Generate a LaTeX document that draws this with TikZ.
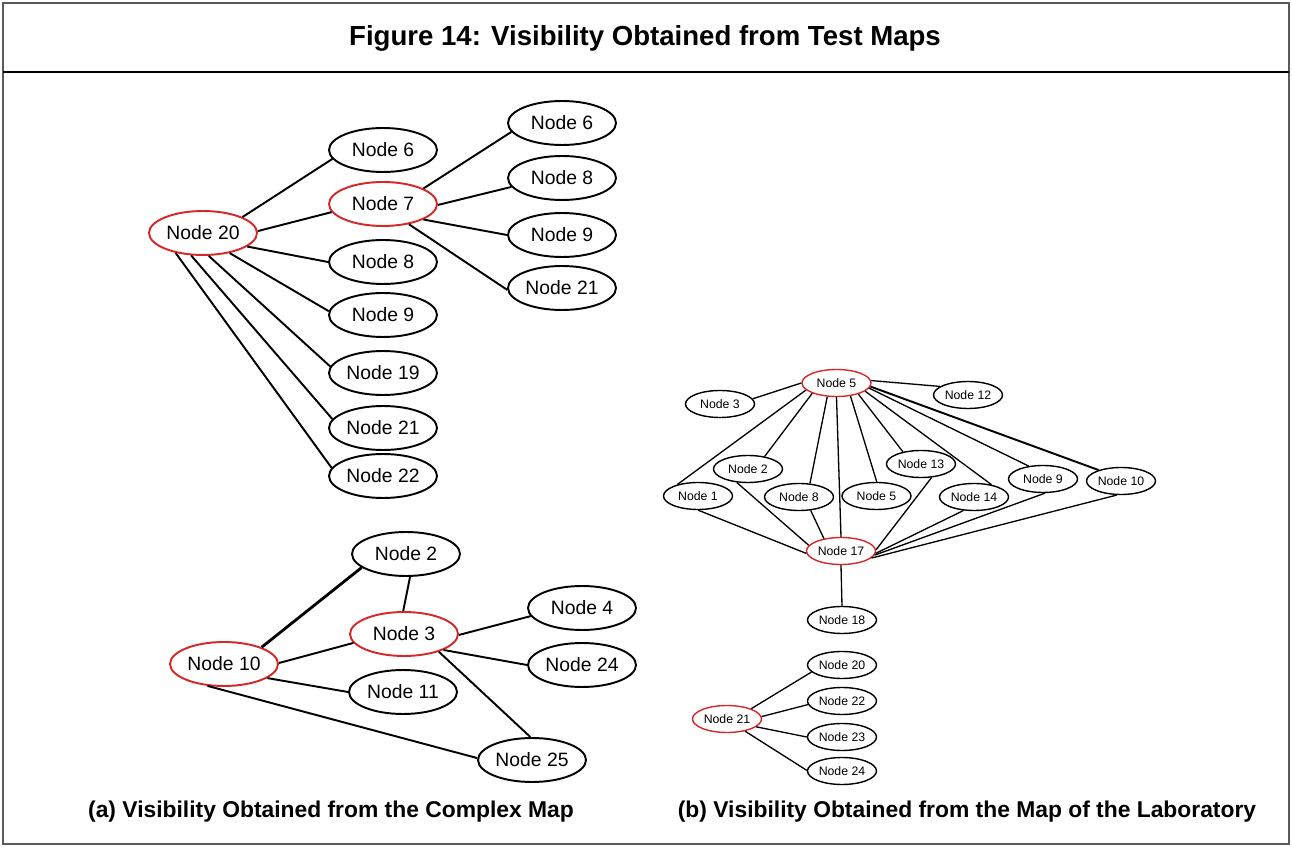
\documentclass[tikz,border=0pt]{standalone}
\usepackage{fontspec}
\setmainfont{Liberation Sans}
\usetikzlibrary{shapes.geometric}
\definecolor{nodered}{RGB}{214,40,40}
\definecolor{framegray}{RGB}{90,90,90}
\begin{document}
\begin{tikzpicture}[x=0.02cm,y=-0.02cm,
  bign/.style={draw, ellipse, line width=1.1pt, minimum width=2.16cm, minimum height=0.88cm, inner sep=0pt, font=\fontsize{11}{12}\selectfont},
  bigr/.style={bign, draw=nodered},
  smalln/.style={draw, ellipse, line width=0.8pt, minimum width=1.38cm, minimum height=0.54cm, inner sep=0pt, font=\fontsize{7}{8}\selectfont},
  smallr/.style={smalln, draw=nodered},
  bige/.style={line width=1.1pt},
  smalle/.style={line width=0.75pt},
  captxt/.style={font=\fontsize{13}{15}\selectfont\bfseries},
]
\useasboundingbox (0,0) rectangle (1292,847);
% frame
\draw[framegray, line width=1pt] (3,3) rectangle (1289,844);
\draw[black, line width=1.5pt] (3,72) -- (1289,72);
\node[font=\fontsize{15.7}{17}\selectfont\bfseries] (title) at (645,38) {Figure 14: Visibility Obtained from Test Maps};

% ---------- panel (a) top ----------
\node[bigr] (a20) at (203,233) {Node 20};
\node[bign] (a6) at (383,150) {Node 6};
\node[bigr] (a7) at (383,204) {Node 7};
\node[bign] (a8) at (383,262) {Node 8};
\node[bign] (a9) at (383,315) {Node 9};
\node[bign] (a19) at (383,373) {Node 19};
\node[bign] (a21) at (383,428) {Node 21};
\node[bign] (a22) at (383,476) {Node 22};
\node[bign] (r6) at (562,123) {Node 6};
\node[bign] (r8) at (562,178) {Node 8};
\node[bign] (r9) at (562,235) {Node 9};
\node[bign] (r21) at (562,288) {Node 21};

\draw[bige] (a20.22) -- (a6.190);
\draw[bige] (a20.2) -- (a7.189);
\draw[bige] (a20.-17) -- (a8.180);
\draw[bige] (a20.-37) -- (a9.176);
\draw[bige] (a20.-76) -- (a19.173);
\draw[bige] (a20.-118) -- (a21.170);
\draw[bige] (a20.-144) -- (a22.171);
\draw[bige] (a7.21) -- (r6.190);
\draw[bige] (a7.-1) -- (r8.190);
\draw[bige] (a7.-21) -- (r9.180);
\draw[bige] (a7.-38) -- (r21.182);

% ---------- panel (a) bottom ----------
\node[bign] (b2) at (406,554) {Node 2};
\node[bigr] (b3) at (404,634) {Node 3};
\node[bigr] (b10) at (224,664) {Node 10};
\node[bign] (b4) at (582,608) {Node 4};
\node[bign] (b24) at (582,665) {Node 24};
\node[bign] (b11) at (403,692) {Node 11};
\node[bign] (b25) at (532,760) {Node 25};

\draw[line width=1.6pt] (b10.24) -- (b2.197);
\draw[bige] (b2.-80) -- (b3.92);
\draw[bige] (b10.1) -- (b3.190);
\draw[bige] (b10.-18) -- (b11.180);
\draw[bige] (b10.-127) -- (b25.178);
\draw[bige] (b3.-1) -- (b4.189);
\draw[bige] (b3.-22) -- (b24.180);
\draw[bige] (b3.-27) -- (b25.94);

% ---------- panel (b) ----------
\node[smallr] (c5) at (836.5,383) {Node 5};
\node[smalln] (c3) at (720,404) {Node 3};
\node[smalln] (c12) at (968,395) {Node 12};
\node[smalln] (c2) at (748,469) {Node 2};
\node[smalln] (c1) at (698,496) {Node 1};
\node[smalln] (c8) at (799,497) {Node 8};
\node[smalln] (c5b) at (876.5,496) {Node 5};
\node[smalln] (c13) at (921,464) {Node 13};
\node[smalln] (c14) at (974,497) {Node 14};
\node[smalln] (c9) at (1043,479) {Node 9};
\node[smalln] (c10) at (1121,481) {Node 10};
\node[smallr] (c17) at (841,551) {Node 17};
\node[smalln] (c18) at (842,620) {Node 18};

\draw[smalle] (c5.180) -- (c3.9);
\draw[smalle] (c5.4) -- (c12.163);
\draw[smalle] (c5.193) -- (c1.151);
\draw[smalle] (c5.203) -- (c2.37);
\draw[smalle] (c5.236) -- (c8.51);
\draw[smalle] (c5.-90) -- (c17.90);
\draw[smalle] (c5.-43) -- (c5b.89);
\draw[smalle] (c5.-27) -- (c13.146);
\draw[smalle] (c5.-16) -- (c14.35);
\draw[smalle] (c5.-9) -- (c9.138);
\draw[line width=1.1pt] (c5.-6) -- (c10.154);

\draw[smalle] (c1.-89) -- (c17.184);
\draw[smalle] (c2.230) -- (c17.170);
\draw[smalle] (c8.-49) -- (c17.144);
\draw[smalle] (c13.-52) -- (c17.2);
\draw[smalle] (c14.232) -- (c17.-4);
\draw[smalle] (c9.-82) -- (c17.-7);
\draw[smalle] (c10.253) -- (c17.-13);
\draw[smalle] (c17.-90) -- (c18.90);

\node[smallr] (d21) at (727,719) {Node 21};
\node[smalln] (d20) at (842,665) {Node 20};
\node[smalln] (d22) at (842,701) {Node 22};
\node[smalln] (d23) at (842,737) {Node 23};
\node[smalln] (d24) at (842,771) {Node 24};

\draw[smalle] (d21.23) -- (d20.193);
\draw[smalle] (d21.4) -- (d22.186);
\draw[smalle] (d21.-15) -- (d23.180);
\draw[smalle] (d21.-34) -- (d24.179);

% captions
\node[captxt] (capa) at (331,812) {(a) Visibility Obtained from the Complex Map};
\node[captxt] (capb) at (967,812) {(b) Visibility Obtained from the Map of the Laboratory};
\end{tikzpicture}
\end{document}
